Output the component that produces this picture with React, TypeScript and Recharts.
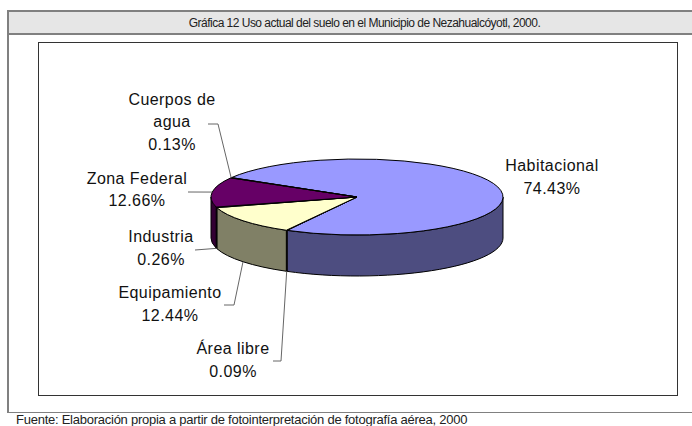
import React from 'react';
import { PieChart, Pie } from 'recharts';

const names = ['Habitacional', 'Área libre', 'Equipamiento', 'Industria', 'Zona Federal', 'Cuerpos de agua'];
const shares = [74.43, 0.09, 12.44, 0.26, 12.66, 0.13];
const topColors = ['#9999ff', '#993366', '#ffffcc', '#ccffff', '#660066', '#ff8080'];
const wallColors = ['#4d4d80', '#4d1a33', '#808066', '#668080', '#330033', '#804040'];

const title = 'Gráfica 12 Uso actual del suelo en el Municipio de Nezahualcóyotl, 2000.';
const source = 'Fuente: Elaboración propia a partir de fotointerpretación de fotografía aérea, 2000';

const data = names.map((name, i) => ({ name, value: shares[i], fill: topColors[i], wall: wallColors[i] }));

// flattened 3D look: ry is the squashed radius, depth the height of the wall
const RY = 38;
const DEPTH = 41;
const FONT = '"Liberation Sans", Arial, sans-serif';

// label placement, in page pixels
const labelLayout: Record<string, { x: number; y: number[]; lines: string[]; leader?: number[][]; low?: boolean }> = {
    Habitacional: { x: 552, y: [171, 194], lines: ['Habitacional'] },
    'Área libre': { x: 233, y: [354, 377], lines: ['Área libre'], leader: [[281, 361], [273, 361]], low: true },
    Equipamiento: { x: 170, y: [298, 321], lines: ['Equipamiento'], leader: [[234, 305], [224, 305]], low: true },
    Industria: { x: 161, y: [242, 265], lines: ['Industria'], leader: [[195, 250]], low: true },
    'Zona Federal': { x: 137, y: [184, 206], lines: ['Zona Federal'], leader: [[188, 192]] },
    'Cuerpos de agua': { x: 172, y: [105, 127, 150], lines: ['Cuerpos de', 'agua'], leader: [[218, 124], [208, 124]] },
};

const rim = (cx: number, cy: number, rx: number, deg: number) => {
    const a = (deg * Math.PI) / 180;
    return [cx + rx * Math.cos(a), cy - RY * Math.sin(a)];
};

const EllipticSector = (props: any) => {
    const { cx, cy, outerRadius: rx, startAngle, endAngle, fill, payload } = props;
    const s = Math.max(startAngle, endAngle);
    const e = Math.min(startAngle, endAngle);
    const [x0, y0] = rim(cx, cy, rx, s);
    const [x1, y1] = rim(cx, cy, rx, e);
    const large = s - e > 180 ? 1 : 0;
    const top = `M${cx},${cy}L${x0},${y0}A${rx},${RY} 0 ${large} 1 ${x1},${y1}Z`;

    // only the front half of the rim shows a wall
    const walls: string[] = [];
    [0, -360].forEach((shift) => {
        const a = Math.min(s, shift);
        const b = Math.max(e, shift - 180);
        if (a > b) {
            const [ax, ay] = rim(cx, cy, rx, a);
            const [bx, by] = rim(cx, cy, rx, b);
            walls.push(
                `M${ax},${ay}A${rx},${RY} 0 0 1 ${bx},${by}L${bx},${by + DEPTH}A${rx},${RY} 0 0 0 ${ax},${ay + DEPTH}Z`,
            );
        }
    });

    return (
        <g>
            {walls.map((d) => (
                <path key={d} d={d} fill={payload.wall} stroke="#000" strokeWidth={1} strokeLinejoin="round" />
            ))}
            <path d={top} fill={fill} stroke="#000" strokeWidth={1} strokeLinejoin="round" />
        </g>
    );
};

const SliceLabel = (props: any) => {
    const { cx, cy, outerRadius, midAngle, name, value } = props;
    const layout = labelLayout[name];
    const textStyle = { fontFamily: FONT, fontSize: 16, letterSpacing: 0.45, fill: '#111' };
    const rows = [...layout.lines, `${value.toFixed(2)}%`];
    let line = null;
    if (layout.leader) {
        const [ax, ay] = rim(cx, cy, outerRadius, midAngle);
        const pts = [[ax, layout.low ? ay + DEPTH : ay], ...layout.leader];
        line = <polyline points={pts.map((p) => p.join(',')).join(' ')} fill="none" stroke="#666" strokeWidth={1} />;
    }
    return (
        <g>
            {line}
            {rows.map((row, i) => (
                <text key={row} x={layout.x} y={layout.y[i]} textAnchor="middle" style={textStyle}>
                    {row}
                </text>
            ))}
        </g>
    );
};

const App = () => {
    return (
        <div style={{ position: 'absolute', left: 0, top: 0, width: 692, height: 426, overflow: 'hidden', background: '#fff' }}>
            <div
                style={{
                    position: 'absolute', left: 7, top: 10, width: 655, height: 21, background: '#e6e6e6',
                    borderTop: '2px solid #808080', borderBottom: '2px solid #808080', paddingLeft: 30,
                    fontFamily: FONT, fontSize: 12, letterSpacing: -0.52, lineHeight: '22px', textAlign: 'center', color: '#222',
                    whiteSpace: 'nowrap',
                }}
            >
                {title}
            </div>
            <div style={{ position: 'absolute', left: 7, top: 10, width: 2, height: 403, background: '#808080' }} />
            <div style={{ position: 'absolute', left: 38, top: 42, width: 638, height: 352, border: '1px solid #333' }} />
            <div style={{ position: 'absolute', left: 7, top: 412, width: 685, height: 1, background: '#808080' }} />
            <div
                style={{
                    position: 'absolute', left: 16, top: 413, fontFamily: FONT, fontSize: 13, letterSpacing: -0.25,
                    lineHeight: '13px', color: '#222', whiteSpace: 'nowrap',
                }}
            >
                {source}
            </div>
            <div style={{ position: 'absolute', left: 0, top: 0 }}>
                <PieChart width={692} height={426} margin={{ top: 0, right: 0, bottom: 0, left: 0 }}>
                    <Pie
                        data={data}
                        dataKey="value"
                        nameKey="name"
                        cx={357}
                        cy={197}
                        outerRadius={146}
                        startAngle={149.3}
                        endAngle={-210.7}
                        paddingAngle={0}
                        minAngle={0}
                        shape={EllipticSector}
                        label={SliceLabel}
                        labelLine={false}
                        isAnimationActive={false}
                    />
                </PieChart>
            </div>
        </div>
    );
};

export default App;
